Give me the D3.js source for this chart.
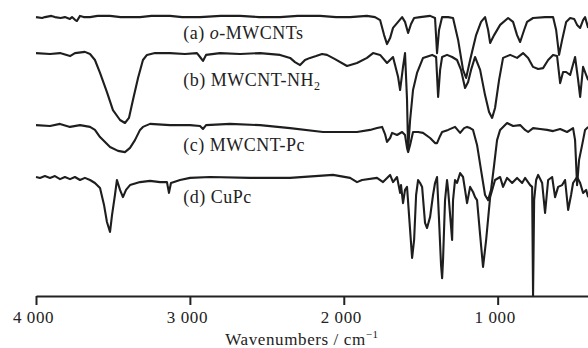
<!DOCTYPE html>
<html>
<head>
<meta charset="utf-8">
<script src="https://cdn.jsdelivr.net/npm/d3@7"></script>
<style>
  body { margin: 0; background: #fff; }
  svg text { font-family: "Liberation Serif", "Times New Roman", serif; fill: #222; }
</style>
</head>
<body>
<div id="chart"></div>
<script>
// IR spectra, stacked. x = wavenumber (cm-1), y = transmittance (a.u., offset per curve)
var ticks = [4000, 3000, 2000, 1000]
var labels = ['(a) ', '(b) MWCNT-NH', '(c) MWCNT-Pc', '(d) CuPc']

var seriesA = [[4000,94.3],[3960,94],[3942,94.3],[3900,94.7],[3877,94.3],[3840,94],[3812,94.3],[3780,93.7],[3766,94.3],[3745,93.3],[3734,93],[3714,94.7],[3690,94.3],[3649,94.3],[3600,94.7],[3519,94.7],[3450,94.3],[3324,94.3],[3250,94.7],[3129,94.7],[3050,94.3],[2934,94.3],[2800,94.7],[2674,94.7],[2550,94.3],[2414,94.3],[2300,94.7],[2154,94.7],[2050,94.3],[1959,94.3],[1850,94.7],[1797,94.3],[1764,93.3],[1738,88.3],[1719,85.3],[1699,87.3],[1680,90.7],[1647,92.7],[1621,94.3],[1602,92.7],[1582,89],[1563,92],[1543,94],[1504,94.3],[1439,94.7],[1407,94],[1394,82.3],[1381,90],[1361,94.3],[1322,94.3],[1290,94],[1257,86.7],[1225,76.7],[1205,74],[1179,80],[1140,88.3],[1108,92.7],[1082,94.3],[1062,90],[1049,85.7],[1023,88.3],[984,91.7],[932,94],[900,92.7],[874,88.3],[854,86],[828,90],[809,92.7],[770,94],[692,94.3],[640,94.3],[620,90],[601,81.7],[581,86.7],[555,92.7],[529,94],[503,93.7],[484,91.7],[464,90.7],[445,93.3],[432,94.3],[412,90.7]]

var seriesB = [[4000,82.3],[3909,82],[3844,82.3],[3779,81.3],[3747,82.3],[3682,82.7],[3649,82],[3617,80],[3584,75.7],[3539,69.3],[3500,63.3],[3454,60],[3422,59],[3396,60.7],[3370,66.7],[3337,74],[3305,80],[3279,81.7],[3227,82.3],[3129,82.3],[3032,82],[2954,82.3],[2934,81],[2915,79.7],[2895,81.7],[2804,82.3],[2674,82],[2544,82.3],[2414,81.7],[2349,80.7],[2317,79.3],[2284,78.3],[2252,80],[2219,80.7],[2180,81.3],[2141,82],[2109,81.7],[2057,80.3],[1979,78],[1914,79],[1849,80.7],[1810,82.3],[1764,81.7],[1719,79],[1680,81],[1647,74.3],[1634,70],[1615,77.7],[1602,82.3],[1589,66.7],[1582,50],[1569,60],[1550,70],[1524,75.7],[1485,80.7],[1426,81.7],[1400,81],[1387,67.7],[1374,76.7],[1361,81],[1329,81.7],[1296,81],[1264,80],[1238,76.7],[1212,70.7],[1192,72.7],[1173,76.7],[1147,81],[1114,76.7],[1082,68.3],[1056,62.7],[1036,60.7],[1017,64],[991,73.3],[965,80.7],[919,81.7],[874,80.7],[835,82.3],[802,80.7],[770,77.7],[737,77],[705,77.3],[672,80],[640,81.7],[614,81.3],[594,72.3],[575,76],[555,76],[529,75],[497,81],[477,73.3],[464,67.7],[445,77.7],[425,75],[412,73.3]]

var seriesC = [[4000,58.3],[3909,58],[3844,58.7],[3779,57.7],[3714,58.3],[3649,57.7],[3617,56.7],[3584,54.3],[3519,51],[3467,49.7],[3422,49.3],[3389,50.7],[3357,53.3],[3324,56.7],[3305,57.7],[3259,58.7],[3129,58.3],[2999,58.3],[2934,58],[2915,57],[2895,58.3],[2739,58.7],[2544,58.3],[2349,57.3],[2135,56],[1914,56],[1829,56.7],[1784,57.3],[1751,57.7],[1732,55.3],[1719,52.7],[1699,54],[1686,55.7],[1654,55],[1621,56],[1602,55],[1589,50.7],[1582,49.3],[1569,51.7],[1550,56],[1517,56],[1485,55.7],[1439,54],[1407,52.3],[1394,52.3],[1374,54.7],[1361,56],[1322,56.7],[1277,57.7],[1244,55.7],[1218,57.3],[1199,57.7],[1179,57.3],[1160,56.7],[1134,51.7],[1108,43.3],[1082,35],[1062,33.3],[1043,36.7],[1023,45],[1004,53.3],[984,56.7],[939,59],[900,58],[854,58.3],[822,56.7],[802,56],[770,57.3],[724,57],[679,56.7],[640,56.3],[594,57],[549,56],[510,57.3],[497,53.3],[484,38.3],[471,46.7],[451,51.7],[432,56.7],[412,57.7]]

var seriesD = [[4000,41],[3974,40.7],[3942,41.3],[3909,40.7],[3877,41.3],[3844,40.3],[3812,41],[3779,40.3],[3747,41],[3714,40],[3682,40.7],[3649,40],[3617,39],[3584,37.3],[3558,31.7],[3539,26],[3519,22.7],[3506,28.3],[3487,35],[3474,40],[3454,36.7],[3435,34.3],[3415,36.7],[3389,38.3],[3324,39.3],[3259,39.7],[3194,39.3],[3149,39.3],[3136,35.7],[3123,39],[3064,40],[2999,40.7],[2869,41],[2609,40.7],[2349,40.7],[2070,41.7],[1959,40.7],[1914,39.3],[1881,40],[1784,40.7],[1745,39.3],[1699,41.7],[1680,39.3],[1654,41],[1634,35.7],[1628,38.3],[1615,32.3],[1602,36.7],[1589,37.7],[1569,23.3],[1556,14],[1543,20],[1530,35],[1517,40],[1504,39],[1491,37.7],[1472,25.7],[1459,24],[1439,27.7],[1420,35],[1407,39],[1394,41],[1381,26.7],[1368,11.7],[1361,7.3],[1355,13.3],[1342,33.3],[1329,40],[1322,36.7],[1309,28.3],[1296,20],[1290,33.3],[1277,40],[1264,39],[1244,42.3],[1225,41],[1212,36.7],[1199,32.3],[1179,37.7],[1160,36],[1147,34.3],[1134,33.3],[1114,21.7],[1095,11],[1075,20],[1049,34.3],[1017,40],[984,41],[965,37.7],[939,40.7],[906,39],[874,40.7],[841,39],[822,40.7],[789,38.3],[776,37.7],[770,1.3],[763,33.3],[750,40],[737,41.7],[711,39],[692,29],[672,40],[646,41],[627,34.3],[607,37.7],[581,38.3],[562,40],[542,30],[523,35],[510,39],[484,41],[464,39],[445,35.7],[425,36.7],[412,34.3]]

var allSeries = [seriesA, seriesB, seriesC, seriesD]
var labelY = [87, 71.3, 49.7, 32.3]   // label baselines, same units as y

var width = 588, height = 348
var svg = d3.select('#chart').append('svg').attr('width', width).attr('height', height)

var x = d3.scaleLinear().domain([4000, 400]).range([36, 590])
var y = d3.scaleLinear().domain([0, 100]).range([300, 0])

var line = d3.line().x(function(d) { return x(d[0]) }).y(function(d) { return y(d[1]) })

svg.selectAll('path.spec').data(allSeries).enter().append('path')
	.attr('class', 'spec')
	.attr('d', line)
	.attr('fill', 'none')
	.attr('stroke', '#1e1e1e')
	.attr('stroke-width', 2.1)
	.attr('stroke-linejoin', 'round')

// labels
var lab = svg.selectAll('text.lab').data(labels).enter().append('text')
	.attr('class', 'lab')
	.attr('x', x(3043))
	.attr('y', function(d, i) { return y(labelY[i]) })
	.style('font-size', '18px')
	.style('letter-spacing', '0.5px')
	.text(function(d) { return d })
var la = d3.select(lab.nodes()[0])
la.append('tspan').style('font-style', 'italic').text('o')
la.append('tspan').text('-MWCNTs')
d3.select(lab.nodes()[1]).append('tspan').attr('dy', 4).style('font-size', '12px').text('2')

// x axis
var xAxis = d3.axisBottom(x).tickValues(ticks).tickSize(9).tickSizeOuter(0)
	.tickFormat(function(d) { return d3.format(',')(d).replace(',', ' ') })
var gx = svg.append('g').attr('transform', 'translate(0,296)').call(xAxis)
gx.select('.domain').attr('stroke', '#222').attr('stroke-width', 2)
gx.selectAll('.tick line').attr('stroke', '#222').attr('stroke-width', 2)
gx.selectAll('.tick text').attr('y', 27).attr('dy', 0).attr('dx', -3)
	.style('font-family', '"Liberation Serif", serif').style('font-size', '17px').style('letter-spacing', '0.6px').attr('fill', '#222')

var title = svg.append('text').attr('x', 302).attr('y', 345).attr('text-anchor', 'middle')
	.style('font-size', '17px').style('letter-spacing', '0.6px')
	.text('Wavenumbers / cm')
title.append('tspan').attr('dy', -7).style('font-size', '11px').text('\u22121')
</script>
</body>
</html>
